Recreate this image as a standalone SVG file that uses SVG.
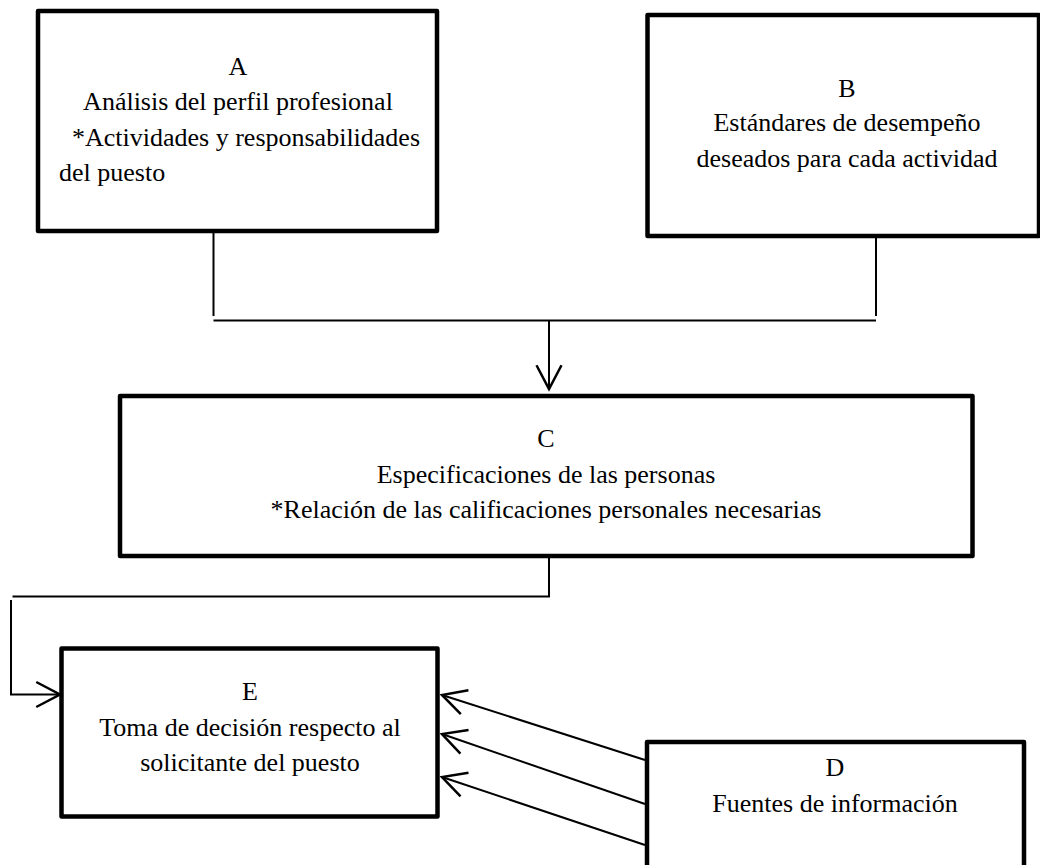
<svg xmlns="http://www.w3.org/2000/svg" width="1040" height="865" viewBox="0 0 1040 865">
<style>
.box{fill:#fff;stroke:#000;stroke-width:4.5;stroke-linejoin:round}
.t{font-family:"Liberation Serif","Times New Roman",serif;font-size:26px;fill:#000}
.m{text-anchor:middle}
.c{fill:none;stroke:#000;stroke-width:2}
</style>
<defs>
<marker id="arr" markerUnits="userSpaceOnUse" markerWidth="30" markerHeight="30" viewBox="-20 -12 22 24" refX="0" refY="0" orient="auto">
<path d="M-19,-10 L0,0 L-19,10" fill="none" stroke="#000" stroke-width="2"/>
</marker>
</defs>
<rect width="1040" height="865" fill="#fff"/>
<g id="connectors">
<line class="c" x1="213.5" y1="233" x2="213.5" y2="316"/>
<line class="c" x1="876" y1="231" x2="876" y2="316"/>
<line class="c" x1="213.5" y1="320.5" x2="876" y2="320.5"/>
<line class="c" x1="549" y1="320.5" x2="549" y2="389" marker-end="url(#arr)"/>
<polyline class="c" points="549,558 549,596.5 12.5,596.5"/>
<polyline class="c" points="11,600 11,694.5 60,694.5" marker-end="url(#arr)"/>
<line class="c" x1="645" y1="760" x2="442" y2="695" marker-end="url(#arr)"/>
<line class="c" x1="645" y1="804" x2="442" y2="734" marker-end="url(#arr)"/>
<line class="c" x1="645" y1="845" x2="442" y2="777" marker-end="url(#arr)"/>
</g>
<g id="A">
<rect class="box" x="38" y="11" width="399" height="220"/>
<text class="t m" x="238" y="75">A</text>
<text class="t m" x="238" y="110">Análisis del perfil profesional</text>
<text class="t" x="72" y="146">*Actividades y responsabilidades</text>
<text class="t" x="59" y="181">del puesto</text>
</g>
<g id="B">
<rect class="box" x="647.5" y="15" width="391.5" height="221"/>
<text class="t m" x="847" y="97">B</text>
<text class="t m" x="847" y="131">Estándares de desempeño</text>
<text class="t m" x="847" y="167">deseados para cada actividad</text>
</g>
<g id="C">
<rect class="box" x="120" y="396" width="852.5" height="160"/>
<text class="t m" x="546" y="447">C</text>
<text class="t m" x="546" y="483">Especificaciones de las personas</text>
<text class="t m" x="546" y="518">*Relación de las calificaciones personales necesarias</text>
</g>
<g id="E">
<rect class="box" x="61.5" y="648.5" width="376" height="168"/>
<text class="t m" x="250" y="700">E</text>
<text class="t m" x="250" y="736">Toma de decisión respecto al</text>
<text class="t m" x="250" y="771">solicitante del puesto</text>
</g>
<g id="D">
<rect class="box" x="647" y="742" width="377" height="150"/>
<text class="t m" x="835" y="776">D</text>
<text class="t m" x="835" y="812">Fuentes de información</text>
</g>
</svg>
